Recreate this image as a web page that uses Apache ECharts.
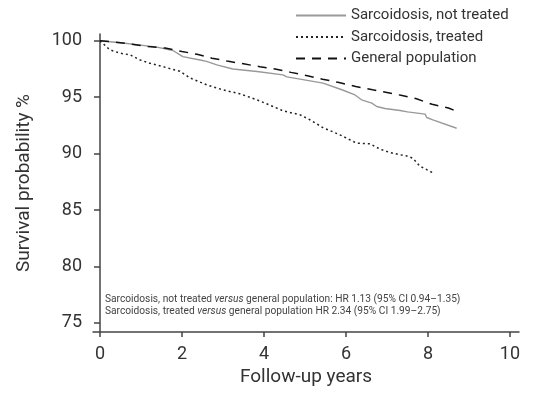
<!DOCTYPE html>
<html>
<head>
<meta charset="utf-8">
<script src="https://cdn.jsdelivr.net/npm/echarts@6/dist/echarts.min.js"></script>
<style>
  html, body { margin: 0; padding: 0; background: #fff; }
  #chart { width: 534px; height: 394px; }
</style>
</head>
<body>
<div id="chart"></div>
<script>
// values: [years, survival %]
var notTreated = [[0, 100], [0.56, 99.8], [1.39, 99.44], [1.78, 99.14], [2.02, 98.6], [2.44, 98.3], [2.6, 98.17],
  [2.85, 97.87], [3.24, 97.5], [3.83, 97.28], [4.46, 96.98], [4.56, 96.8], [4.88, 96.6], [5.44, 96.25],
  [5.9, 95.66], [6.22, 95.2], [6.38, 94.77], [6.63, 94.48], [6.75, 94.18], [6.95, 94.0], [7.32, 93.82],
  [7.5, 93.7], [7.93, 93.5], [7.97, 93.2], [8.12, 93.0], [8.7, 92.25]];
var treated = [[0, 100], [0.24, 99.2], [0.49, 98.9], [0.73, 98.76], [0.98, 98.3], [1.22, 98.0], [1.54, 97.7],
  [1.95, 97.3], [2.2, 96.7], [2.6, 96.1], [3.0, 95.65], [3.41, 95.3], [3.83, 94.77], [4.22, 94.18],
  [4.46, 93.8], [4.63, 93.65], [4.88, 93.44], [5.12, 93.0], [5.44, 92.3], [5.85, 91.67], [6.26, 90.93],
  [6.59, 90.87], [6.83, 90.4], [7.07, 90.1], [7.32, 89.9], [7.48, 89.8], [7.63, 89.6], [7.73, 89.2],
  [7.8, 88.9], [8.12, 88.3]];
var generalPop = [[0, 100], [0.37, 99.88], [0.78, 99.7], [1.17, 99.5], [1.59, 99.35], [2.0, 99.05], [2.37, 98.8],
  [2.73, 98.46], [3.1, 98.2], [3.5, 97.96], [3.9, 97.7], [4.27, 97.5], [4.66, 97.2], [5.06, 96.9],
  [5.43, 96.6], [5.83, 96.3], [6.24, 95.95], [6.65, 95.66], [7.03, 95.4], [7.34, 95.17], [7.72, 94.86],
  [8.1, 94.37], [8.5, 94.05], [8.78, 93.62]];
var xTicks = [0, 2, 4, 6, 8, 10];
var yTicks = [75, 80, 85, 90, 95, 100];
var seriesNames = ['Sarcoidosis, not treated', 'Sarcoidosis, treated', 'General population'];

var chart = echarts.init(document.getElementById('chart'));
var axisColor = '#444';
var font = 'Roboto, sans-serif';

chart.setOption({
  animation: false,
  textStyle: {fontFamily: font},
  grid: {left: 93, right: 15, top: 34, bottom: 62},
  legend: {
    orient: 'vertical',
    left: 295,
    top: 8,
    padding: 0,
    itemWidth: 50,
    itemHeight: 14,
    itemGap: 6.5,
    itemStyle: {opacity: 0},
    textStyle: {fontSize: 15, color: '#333', fontFamily: font},
    data: seriesNames
  },
  xAxis: {
    type: 'value',
    min: -0.17,
    max: 10.22,
    name: 'Follow-up years',
    nameLocation: 'middle',
    nameGap: 35,
    nameTextStyle: {fontSize: 19, color: '#333'},
    splitLine: {show: false},
    axisLine: {lineStyle: {color: axisColor, width: 1.5}},
    axisTick: {length: 5, lineStyle: {color: axisColor, width: 1.5}, customValues: xTicks},
    axisLabel: {fontSize: 18, color: '#333', margin: 13, customValues: xTicks}
  },
  yAxis: {
    type: 'value',
    min: 74.2,
    max: 100.6,
    name: 'Survival probability %',
    nameLocation: 'middle',
    nameGap: 59,
    nameTextStyle: {fontSize: 19, color: '#333'},
    splitLine: {show: false},
    axisLine: {show: true, lineStyle: {color: axisColor, width: 1.5}},
    axisTick: {show: true, length: 6, lineStyle: {color: axisColor, width: 1.5}, customValues: yTicks},
    axisLabel: {fontSize: 18, color: '#333', margin: 11, customValues: yTicks}
  },
  series: [{
    name: seriesNames[0],
    type: 'line',
    data: notTreated,
    symbol: 'none',
    lineStyle: {color: '#999', width: 1.4, type: 'solid'},
    itemStyle: {color: '#999'}
  }, {
    name: seriesNames[1],
    type: 'line',
    data: treated,
    symbol: 'none',
    lineStyle: {color: '#222', width: 1.5, type: [2, 3]},
    itemStyle: {color: '#222'}
  }, {
    name: seriesNames[2],
    type: 'line',
    data: generalPop,
    symbol: 'none',
    lineStyle: {color: '#111', width: 1.5, type: [9, 7]},
    itemStyle: {color: '#111'}
  }],
  graphic: [{
    type: 'text',
    left: 105,
    top: 294,
    style: {
      text: '{n|Sarcoidosis, not treated }{i|versus}{n| general population: HR 1.13 (95% CI 0.94–1.35)}\n' +
            '{n|Sarcoidosis, treated }{i|versus}{n| general population HR 2.34 (95% CI 1.99–2.75)}',
      rich: {
        n: {fontSize: 10.2, fontFamily: font, fill: '#444', lineHeight: 12},
        i: {fontSize: 10.2, fontFamily: font, fontStyle: 'italic', fill: '#444', lineHeight: 12}
      }
    }
  }]
});
</script>
</body>
</html>
